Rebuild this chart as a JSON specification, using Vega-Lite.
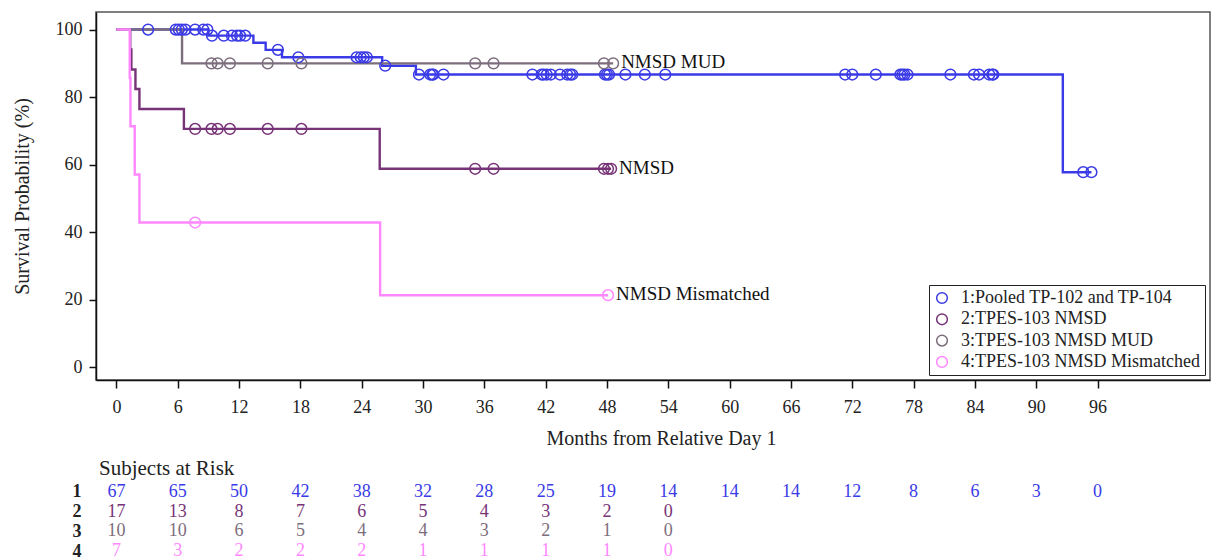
{
  "$schema": "https://vega.github.io/schema/vega-lite/v6.json",
  "autosize": {"type": "pad"},
  "padding": {"left": 11, "top": 11, "right": 0, "bottom": 0},
  "background": "white",
  "config": {
    "font": "Liberation Serif",
    "view": {"stroke": null},
    "axis": {
      "labelFont": "Liberation Serif",
      "titleFont": "Liberation Serif",
      "labelColor": "#222",
      "titleColor": "#222",
      "labelFontSize": 18,
      "titleFontSize": 20,
      "titleFontWeight": "normal",
      "grid": false,
      "domainColor": "#111",
      "domainWidth": 1.5,
      "tickColor": "#111",
      "tickWidth": 1.5
    },
    "legend": {
      "labelFont": "Liberation Serif",
      "labelFontSize": 18,
      "labelColor": "#222",
      "labelLimit": 400
    }
  },
  "datasets": {
    "groups": [
      {"g": 1, "name": "1:Pooled TP-102 and TP-104"},
      {"g": 2, "name": "2:TPES-103 NMSD"},
      {"g": 3, "name": "3:TPES-103 NMSD MUD"},
      {"g": 4, "name": "4:TPES-103 NMSD Mismatched"}
    ],
    "km": [
      {"g": 1, "t": 0, "s": 100},
      {"g": 1, "t": 9.0, "s": 98.2},
      {"g": 1, "t": 13.4, "s": 96.1},
      {"g": 1, "t": 14.6, "s": 94.0},
      {"g": 1, "t": 16.2, "s": 91.8},
      {"g": 1, "t": 26.0, "s": 89.3},
      {"g": 1, "t": 29.3, "s": 86.7},
      {"g": 1, "t": 92.6, "s": 57.8},
      {"g": 1, "t": 95.4, "s": 57.8},
      {"g": 2, "t": 0, "s": 100},
      {"g": 2, "t": 1.35, "s": 94.1},
      {"g": 2, "t": 1.46, "s": 88.2},
      {"g": 2, "t": 1.86, "s": 82.4},
      {"g": 2, "t": 2.25, "s": 76.5},
      {"g": 2, "t": 6.6, "s": 70.6},
      {"g": 2, "t": 25.76, "s": 58.8},
      {"g": 2, "t": 48.4, "s": 58.8},
      {"g": 3, "t": 0, "s": 100},
      {"g": 3, "t": 6.42, "s": 90.0},
      {"g": 3, "t": 48.6, "s": 90.0},
      {"g": 4, "t": 0, "s": 100},
      {"g": 4, "t": 1.3, "s": 85.7},
      {"g": 4, "t": 1.37, "s": 71.4},
      {"g": 4, "t": 1.79, "s": 57.1},
      {"g": 4, "t": 2.25, "s": 42.9},
      {"g": 4, "t": 25.8, "s": 21.4},
      {"g": 4, "t": 48.1, "s": 21.4}
    ],
    "censored": [
      {"g": 1, "t": 3.1, "s": 100}, {"g": 1, "t": 5.8, "s": 100}, {"g": 1, "t": 6.1, "s": 100},
      {"g": 1, "t": 6.4, "s": 100}, {"g": 1, "t": 6.75, "s": 100}, {"g": 1, "t": 7.7, "s": 100},
      {"g": 1, "t": 8.5, "s": 100}, {"g": 1, "t": 8.9, "s": 100},
      {"g": 1, "t": 9.35, "s": 98.2}, {"g": 1, "t": 10.5, "s": 98.2}, {"g": 1, "t": 11.3, "s": 98.2},
      {"g": 1, "t": 11.8, "s": 98.2}, {"g": 1, "t": 12.1, "s": 98.2}, {"g": 1, "t": 12.6, "s": 98.2},
      {"g": 1, "t": 15.8, "s": 94.0},
      {"g": 1, "t": 17.8, "s": 91.8}, {"g": 1, "t": 23.5, "s": 91.8}, {"g": 1, "t": 23.9, "s": 91.8},
      {"g": 1, "t": 24.2, "s": 91.8}, {"g": 1, "t": 24.5, "s": 91.8},
      {"g": 1, "t": 26.3, "s": 89.3},
      {"g": 1, "t": 29.6, "s": 86.7}, {"g": 1, "t": 30.7, "s": 86.7}, {"g": 1, "t": 30.9, "s": 86.7},
      {"g": 1, "t": 31.0, "s": 86.7}, {"g": 1, "t": 32.0, "s": 86.7}, {"g": 1, "t": 40.7, "s": 86.7},
      {"g": 1, "t": 41.6, "s": 86.7}, {"g": 1, "t": 41.8, "s": 86.7}, {"g": 1, "t": 42.1, "s": 86.7},
      {"g": 1, "t": 42.5, "s": 86.7}, {"g": 1, "t": 43.4, "s": 86.7}, {"g": 1, "t": 44.1, "s": 86.7},
      {"g": 1, "t": 44.4, "s": 86.7}, {"g": 1, "t": 44.6, "s": 86.7}, {"g": 1, "t": 47.8, "s": 86.7},
      {"g": 1, "t": 48.0, "s": 86.7}, {"g": 1, "t": 48.2, "s": 86.7}, {"g": 1, "t": 49.8, "s": 86.7},
      {"g": 1, "t": 51.7, "s": 86.7}, {"g": 1, "t": 53.7, "s": 86.7}, {"g": 1, "t": 71.3, "s": 86.7},
      {"g": 1, "t": 72.0, "s": 86.7}, {"g": 1, "t": 74.3, "s": 86.7}, {"g": 1, "t": 76.7, "s": 86.7},
      {"g": 1, "t": 76.9, "s": 86.7}, {"g": 1, "t": 77.1, "s": 86.7}, {"g": 1, "t": 77.4, "s": 86.7},
      {"g": 1, "t": 81.6, "s": 86.7}, {"g": 1, "t": 83.9, "s": 86.7}, {"g": 1, "t": 84.4, "s": 86.7},
      {"g": 1, "t": 85.4, "s": 86.7}, {"g": 1, "t": 85.7, "s": 86.7}, {"g": 1, "t": 85.8, "s": 86.7},
      {"g": 1, "t": 94.6, "s": 57.8}, {"g": 1, "t": 95.4, "s": 57.8},
      {"g": 2, "t": 7.7, "s": 70.6}, {"g": 2, "t": 9.3, "s": 70.6}, {"g": 2, "t": 9.9, "s": 70.6},
      {"g": 2, "t": 11.1, "s": 70.6}, {"g": 2, "t": 14.8, "s": 70.6}, {"g": 2, "t": 18.1, "s": 70.6},
      {"g": 2, "t": 35.1, "s": 58.8}, {"g": 2, "t": 36.9, "s": 58.8}, {"g": 2, "t": 47.7, "s": 58.8},
      {"g": 2, "t": 48.1, "s": 58.8}, {"g": 2, "t": 48.4, "s": 58.8},
      {"g": 3, "t": 9.3, "s": 90.0}, {"g": 3, "t": 9.9, "s": 90.0}, {"g": 3, "t": 11.1, "s": 90.0},
      {"g": 3, "t": 14.8, "s": 90.0}, {"g": 3, "t": 18.1, "s": 90.0}, {"g": 3, "t": 35.1, "s": 90.0},
      {"g": 3, "t": 36.9, "s": 90.0}, {"g": 3, "t": 47.7, "s": 90.0}, {"g": 3, "t": 48.6, "s": 90.0},
      {"g": 4, "t": 7.7, "s": 42.9}, {"g": 4, "t": 48.1, "s": 21.4}
    ],
    "curveLabels": [
      {"g": 3, "t": 48.6, "s": 90.0, "label": "NMSD MUD"},
      {"g": 2, "t": 48.4, "s": 58.8, "label": "NMSD"},
      {"g": 4, "t": 48.1, "s": 21.4, "label": "NMSD Mismatched"}
    ],
    "atRisk": [
      {"g": 1, "t": 0, "n": 67}, {"g": 1, "t": 6, "n": 65}, {"g": 1, "t": 12, "n": 50},
      {"g": 1, "t": 18, "n": 42}, {"g": 1, "t": 24, "n": 38}, {"g": 1, "t": 30, "n": 32},
      {"g": 1, "t": 36, "n": 28}, {"g": 1, "t": 42, "n": 25}, {"g": 1, "t": 48, "n": 19},
      {"g": 1, "t": 54, "n": 14}, {"g": 1, "t": 60, "n": 14}, {"g": 1, "t": 66, "n": 14},
      {"g": 1, "t": 72, "n": 12}, {"g": 1, "t": 78, "n": 8}, {"g": 1, "t": 84, "n": 6},
      {"g": 1, "t": 90, "n": 3}, {"g": 1, "t": 96, "n": 0},
      {"g": 2, "t": 0, "n": 17}, {"g": 2, "t": 6, "n": 13}, {"g": 2, "t": 12, "n": 8},
      {"g": 2, "t": 18, "n": 7}, {"g": 2, "t": 24, "n": 6}, {"g": 2, "t": 30, "n": 5},
      {"g": 2, "t": 36, "n": 4}, {"g": 2, "t": 42, "n": 3}, {"g": 2, "t": 48, "n": 2},
      {"g": 2, "t": 54, "n": 0},
      {"g": 3, "t": 0, "n": 10}, {"g": 3, "t": 6, "n": 10}, {"g": 3, "t": 12, "n": 6},
      {"g": 3, "t": 18, "n": 5}, {"g": 3, "t": 24, "n": 4}, {"g": 3, "t": 30, "n": 4},
      {"g": 3, "t": 36, "n": 3}, {"g": 3, "t": 42, "n": 2}, {"g": 3, "t": 48, "n": 1},
      {"g": 3, "t": 54, "n": 0},
      {"g": 4, "t": 0, "n": 7}, {"g": 4, "t": 6, "n": 3}, {"g": 4, "t": 12, "n": 2},
      {"g": 4, "t": 18, "n": 2}, {"g": 4, "t": 24, "n": 2}, {"g": 4, "t": 30, "n": 1},
      {"g": 4, "t": 36, "n": 1}, {"g": 4, "t": 42, "n": 1}, {"g": 4, "t": 48, "n": 1},
      {"g": 4, "t": 54, "n": 0}
    ]
  },
  "spacing": 9,
  "resolve": {"scale": {"color": "independent", "x": "independent", "y": "independent"}},
  "vconcat": [
    {
      "width": 1114,
      "height": 368,
      "view": {"stroke": "#555", "strokeWidth": 1.5},
      "encoding": {
        "x": {
          "field": "t",
          "type": "quantitative",
          "scale": {"domain": [-2.0, 107.0], "nice": false, "zero": false},
          "axis": {
            "title": "Months from Relative Day 1",
            "values": [0, 6, 12, 18, 24, 30, 36, 42, 48, 54, 60, 66, 72, 78, 84, 90, 96],
            "tickSize": 8,
            "labelPadding": 10,
            "titlePadding": 12,
            "titleX": 565
          }
        },
        "y": {
          "field": "s",
          "type": "quantitative",
          "scale": {"domain": [-3.7, 105.2], "nice": false, "zero": false},
          "axis": {
            "title": "Survival Probability (%)",
            "values": [0, 20, 40, 60, 80, 100],
            "tickSize": 7,
            "labelPadding": 7,
            "titlePadding": 23
          }
        }
      },
      "layer": [
        {
          "data": {"name": "km"},
          "transform": [
            {"lookup": "g", "from": {"data": {"name": "groups"}, "key": "g", "fields": ["name"]}}
          ],
          "mark": {"type": "line", "interpolate": "step-after", "strokeWidth": 2.4},
          "encoding": {
            "color": {
              "field": "name",
              "type": "nominal",
              "scale": {
                "domain": ["1:Pooled TP-102 and TP-104", "2:TPES-103 NMSD", "3:TPES-103 NMSD MUD", "4:TPES-103 NMSD Mismatched"],
                "range": ["#3a3ae6", "#773377", "#7d6e7d", "#ff88ff"]
              },
              "legend": {
                "title": null,
                "orient": "bottom-right",
                "offset": 5,
                "padding": 4,
                "strokeColor": "#222",
                "symbolType": "circle",
                "symbolSize": 115,
                "symbolStrokeWidth": 1.5,
                "symbolFillColor": "transparent",
                "labelOffset": 10,
                "labelLimit": 400,
                "rowPadding": 3.3,
                "fillColor": "white"
              }
            },
            "detail": {"field": "g", "type": "nominal"}
          }
        },
        {
          "data": {"name": "censored"},
          "transform": [
            {"lookup": "g", "from": {"data": {"name": "groups"}, "key": "g", "fields": ["name"]}}
          ],
          "mark": {"type": "point", "shape": "circle", "filled": false, "size": 115, "strokeWidth": 1.5, "opacity": 1},
          "encoding": {
            "color": {
              "field": "name",
              "type": "nominal",
              "scale": {
                "domain": ["1:Pooled TP-102 and TP-104", "2:TPES-103 NMSD", "3:TPES-103 NMSD MUD", "4:TPES-103 NMSD Mismatched"],
                "range": ["#3a3ae6", "#773377", "#7d6e7d", "#ff88ff"]
              },
              "legend": {
                "title": null,
                "orient": "bottom-right",
                "offset": 5,
                "padding": 4,
                "strokeColor": "#222",
                "symbolType": "circle",
                "symbolSize": 115,
                "symbolStrokeWidth": 1.5,
                "symbolFillColor": "transparent",
                "labelOffset": 10,
                "labelLimit": 400,
                "rowPadding": 3.3,
                "fillColor": "white"
              }
            }
          }
        },
        {
          "data": {"name": "curveLabels"},
          "mark": {"type": "text", "align": "left", "baseline": "middle", "dx": 8, "dy": -1, "fontSize": 19, "color": "#111"},
          "encoding": {
            "text": {"field": "label", "type": "nominal"}
          }
        }
      ]
    },
    {
      "width": 1114,
      "height": 79,
      "view": {"stroke": null},
      "title": {
        "text": "Subjects at Risk",
        "anchor": "start",
        "frame": "group",
        "dx": 3,
        "fontSize": 21,
        "fontWeight": "normal",
        "font": "Liberation Serif",
        "color": "#222",
        "offset": 3
      },
      "data": {"name": "atRisk"},
      "mark": {"type": "text", "fontSize": 18, "baseline": "middle", "align": "center"},
      "encoding": {
        "x": {
          "field": "t",
          "type": "quantitative",
          "scale": {"domain": [-2.0, 107.0], "nice": false, "zero": false},
          "axis": null
        },
        "y": {
          "field": "g",
          "type": "ordinal",
          "axis": {
            "title": null,
            "domain": false,
            "ticks": false,
            "labelFontWeight": "bold",
            "labelPadding": 15,
            "encode": {
              "labels": {
                "update": {
                  "fill": {"signal": "datum.value == 1 ? '#3a3ae6' : datum.value == 2 ? '#773377' : datum.value == 3 ? '#7d6e7d' : '#ff88ff'"}
                }
              }
            }
          }
        },
        "text": {"field": "n", "type": "quantitative"},
        "color": {
          "field": "g",
          "type": "nominal",
          "scale": {"domain": [1, 2, 3, 4], "range": ["#3a3ae6", "#773377", "#7d6e7d", "#ff88ff"]},
          "legend": null
        }
      }
    }
  ]
}
